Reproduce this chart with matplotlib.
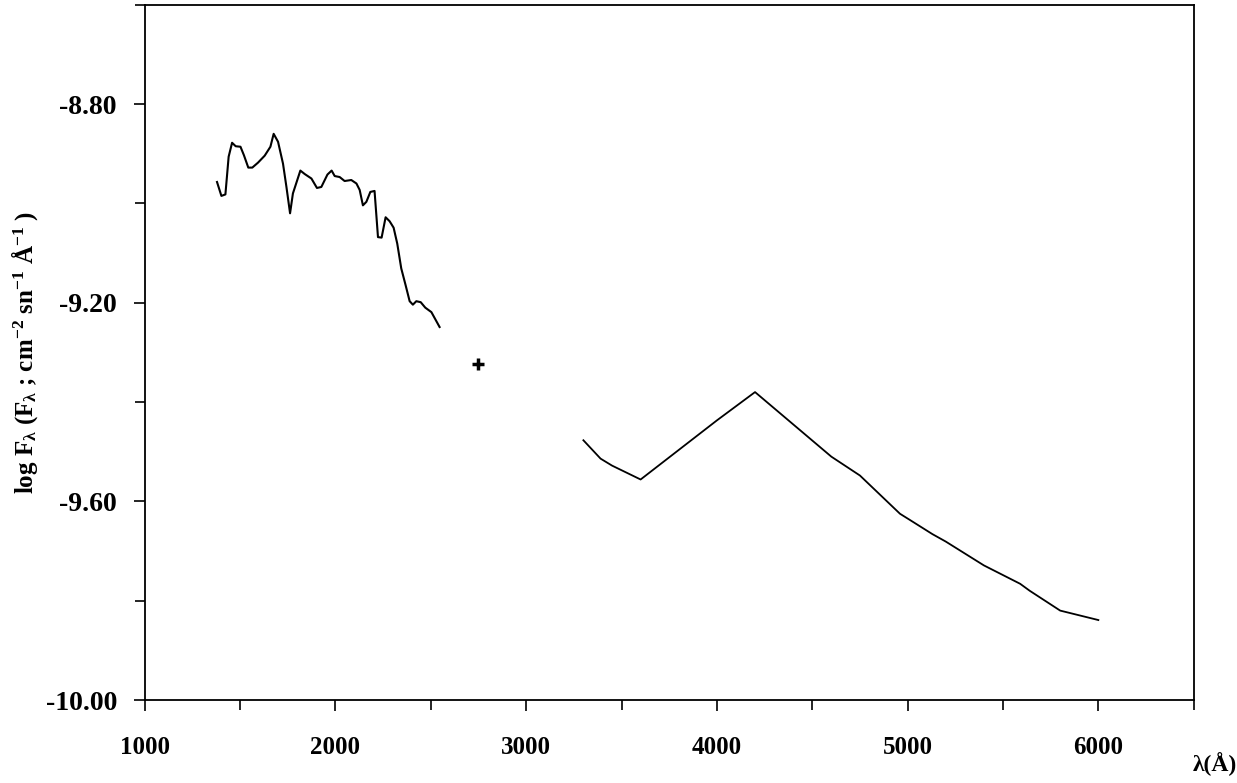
import matplotlib
matplotlib.use("Agg")
import matplotlib.pyplot as plt
from matplotlib.ticker import MultipleLocator, FormatStrFormatter

# UV spectrum
uv_wave = [1379, 1402, 1423, 1440, 1458, 1477, 1502, 1520, 1543, 1564, 1594, 1629,
           1659, 1676, 1699, 1725, 1743, 1762, 1777, 1816, 1839, 1874, 1903, 1926,
           1958, 1980, 1996, 2022, 2048, 2083, 2110, 2127, 2144, 2162, 2183, 2205,
           2223, 2242, 2263, 2284, 2305, 2324, 2345, 2368, 2389, 2406, 2424, 2447,
           2471, 2503, 2546]
uv_flux = [-8.957, -8.985, -8.982, -8.906, -8.878, -8.885, -8.886, -8.903, -8.928,
           -8.928, -8.918, -8.904, -8.886, -8.860, -8.876, -8.920, -8.967, -9.020,
           -8.980, -8.934, -8.941, -8.950, -8.969, -8.967, -8.942, -8.934, -8.945,
           -8.947, -8.955, -8.953, -8.960, -8.973, -9.004, -8.997, -8.977, -8.975,
           -9.068, -9.069, -9.028, -9.036, -9.049, -9.081, -9.131, -9.165, -9.197,
           -9.204, -9.197, -9.199, -9.210, -9.219, -9.249]

# single point
pt_wave = [2750]
pt_flux = [-9.324]

# optical part
opt_wave = [3300, 3390, 3450, 3600, 4000, 4200, 4600, 4750, 4960, 5010, 5130,
            5200, 5400, 5590, 5640, 5800, 6000]
opt_flux = [-9.477, -9.514, -9.528, -9.556, -9.437, -9.380, -9.510, -9.548,
            -9.625, -9.637, -9.666, -9.681, -9.729, -9.766, -9.780, -9.820, -9.839]

plt.rcParams['font.family'] = ['Liberation Serif', 'DejaVu Serif']
plt.rcParams['font.weight'] = 'bold'
plt.rcParams['axes.unicode_minus'] = False
plt.rcParams['mathtext.fontset'] = 'custom'
plt.rcParams['mathtext.rm'] = 'Liberation Serif:bold'
plt.rcParams['mathtext.it'] = 'Liberation Serif:bold'
plt.rcParams['mathtext.bf'] = 'Liberation Serif:bold'

fig = plt.figure(figsize=(12.37, 7.83), dpi=100)
ax = fig.add_axes([0.117, 0.106, 0.848, 0.888])

ax.plot(uv_wave, uv_flux, color='black', lw=1.5)
ax.plot(opt_wave, opt_flux, color='black', lw=1.3)
ax.plot(pt_wave, pt_flux, marker='+', color='black', ms=8, mew=2.5, ls='none')

ax.set_xlim(1000, 6500)
ax.set_ylim(-10.0, -8.6)

ax.xaxis.set_minor_locator(MultipleLocator(500))
ax.yaxis.set_minor_locator(MultipleLocator(0.2))
ax.yaxis.set_major_formatter(FormatStrFormatter('%.2f'))
ax.set_xticks([1000, 2000, 3000, 4000, 5000, 6000])
ax.set_yticks([-10.0, -9.6, -9.2, -8.8])

ax.tick_params(which='both', direction='out', top=False, right=False, width=1.2)
ax.tick_params(which='major', length=8)
ax.tick_params(which='minor', length=7)
ax.tick_params(axis='x', labelsize=18, pad=18)
ax.tick_params(axis='y', labelsize=20, pad=12)

for s in ax.spines.values():
    s.set_linewidth(1.3)

ax.set_ylabel(r"log F$_{\mathrm{\lambda}}$ (F$_{\mathrm{\lambda}}$ ; cm$^{-2}$ sn$^{-1}$ $\mathrm{\AA}^{-1}$ )",
              fontsize=18, fontweight='bold')
ax.yaxis.set_label_coords(-0.1, 0.5)
ax.set_xlabel("λ(Å)", fontsize=17, fontweight='bold')
ax.xaxis.set_label_coords(1.02, -0.075)

fig.savefig("out.png", dpi=100)
